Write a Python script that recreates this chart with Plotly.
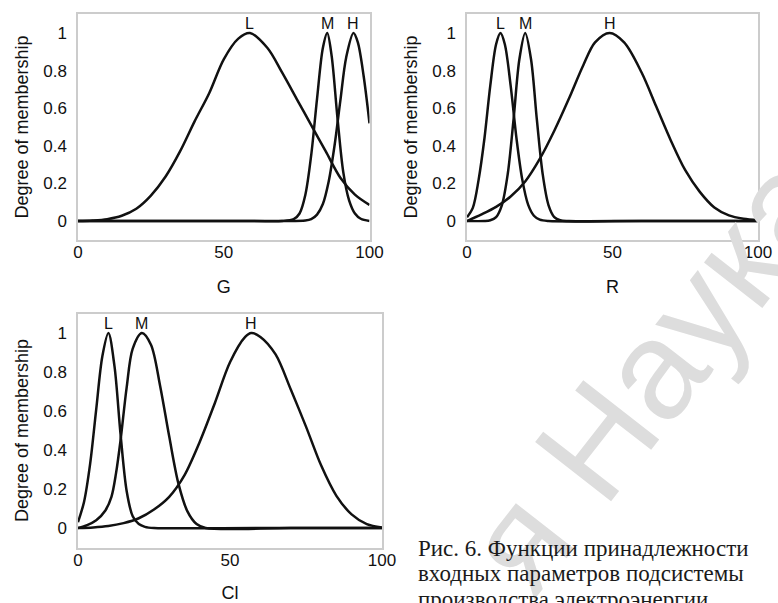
import numpy as np
import plotly.graph_objects as go

# ---- membership functions, input G ----
g_x_low = [0, 5, 10, 15, 20, 25, 30, 35, 40, 45, 50, 55, 59, 65, 70, 75, 80, 85, 90, 95, 100]
g_low = [0.0, 0.003, 0.01, 0.028, 0.065, 0.135, 0.235, 0.37, 0.53, 0.68, 0.86, 0.97, 1.0,
         0.92, 0.79, 0.65, 0.51, 0.37, 0.23, 0.14, 0.085]
g_x_med = [0, 60, 70, 74, 76, 78, 80, 82, 84, 85.5, 87, 89, 91, 93, 95, 97, 100]
g_med = [0, 0, 0, 0.01, 0.04, 0.14, 0.35, 0.65, 0.92, 1.0, 0.88, 0.55, 0.26, 0.11, 0.04, 0.012, 0.0]
g_x_high = [0, 70, 78, 80, 82, 84, 86, 88, 90, 92, 94.5, 96, 98, 100]
g_high = [0, 0, 0.003, 0.01, 0.034, 0.09, 0.21, 0.40, 0.64, 0.87, 1.0, 0.95, 0.77, 0.52]

# ---- membership functions, input R ----
r_x_low = [0, 2, 4, 6, 8, 10, 11.5, 13, 15, 17, 19, 21, 23, 25, 28, 60, 100]
r_low = [0.02, 0.07, 0.22, 0.44, 0.72, 0.94, 1.0, 0.94, 0.72, 0.44, 0.22, 0.087, 0.028, 0.007, 0, 0, 0]
r_x_med = [0, 6, 8, 10, 12, 14, 16, 18, 20, 22, 24, 26, 28, 30, 32, 35, 60, 100]
r_med = [0, 0, 0.004, 0.021, 0.085, 0.25, 0.54, 0.86, 1.0, 0.86, 0.54, 0.25, 0.085, 0.021, 0.004, 0, 0, 0]
r_x_high = [0, 5, 10, 15, 20, 25, 30, 35, 40, 44, 49, 54, 60, 65, 70, 75, 80, 85, 90, 95, 100]
r_high = [0.0, 0.035, 0.075, 0.13, 0.21, 0.33, 0.48, 0.65, 0.83, 0.95, 1.0, 0.95, 0.79, 0.61,
          0.43, 0.27, 0.155, 0.072, 0.03, 0.012, 0.004]

# ---- membership functions, input Cl ----
c_x_low = [0, 2, 4, 6, 8, 10, 12, 14, 16, 18, 20, 22, 25, 60, 100]
c_low = [0.03, 0.135, 0.33, 0.61, 0.88, 1.0, 0.83, 0.48, 0.19, 0.06, 0.02, 0.006, 0, 0, 0]
c_x_med = [0, 3, 6, 9, 11, 12.5, 14, 16, 18, 21, 24, 27, 30, 33, 36, 39, 42, 70, 100]
c_med = [0, 0.015, 0.04, 0.09, 0.16, 0.28, 0.45, 0.72, 0.92, 1.0, 0.94, 0.73, 0.47, 0.23,
         0.085, 0.02, 0, 0, 0]
c_x_high = [0, 5, 10, 15, 20, 25, 30, 35, 40, 45, 50, 55, 57, 60, 65, 70, 75, 80, 85, 90, 95, 100]
c_high = [0.0, 0.003, 0.01, 0.025, 0.05, 0.095, 0.16, 0.27, 0.44, 0.64, 0.85, 0.98, 1.0, 0.98,
          0.89, 0.71, 0.52, 0.32, 0.165, 0.07, 0.02, 0.003]

term_names = ["L", "M", "H"]
x_titles = ["G", "R", "Cl"]
x_ticks = [0, 50, 100]
y_ticks = [0, 0.2, 0.4, 0.6, 0.8, 1]
y_tick_text = ["0", "0.2", "0.4", "0.6", "0.8", "1"]

caption_lines = ["Рис. 6. Функции принадлежности",
                 "входных параметров подсистемы",
                 "производства электроэнергии"]

W, H = 778, 603
SANS = "Liberation Sans, Arial, sans-serif"
SERIF = "Liberation Serif, Times New Roman, serif"


def fx(px):
    return px / W


def fy(py):
    return 1 - py / H


panels = [
    dict(sfx="", curves=[(g_x_low, g_low), (g_x_med, g_med), (g_x_high, g_high)],
         xdom=[fx(78), fx(369.5)], ydom=[fy(239.8), fy(14.2)]),
    dict(sfx="2", curves=[(r_x_low, r_low), (r_x_med, r_med), (r_x_high, r_high)],
         xdom=[fx(467), fx(758)], ydom=[fy(239.8), fy(14.2)]),
    dict(sfx="3", curves=[(c_x_low, c_low), (c_x_med, c_med), (c_x_high, c_high)],
         xdom=[fx(78), fx(382)], ydom=[fy(547.5), fy(313.5)]),
]

fig = go.Figure()

# faint diagonal watermark behind the caption
fig.add_annotation(
    x=fx(650), y=fy(372), xref="paper", yref="paper",
    xanchor="center", yanchor="middle",
    text="я Наука", showarrow=False, textangle=-52,
    font=dict(family=SANS, size=140, color="#dddddd"),
)

layout_axes = {}
for i, p in enumerate(panels):
    s = p["sfx"]
    for name, (xs, ys) in zip(term_names, p["curves"]):
        fig.add_trace(go.Scatter(
            x=xs, y=ys, mode="lines",
            line=dict(color="#111111", width=2.5, shape="spline", smoothing=0.9),
            xaxis="x" + s, yaxis="y" + s, showlegend=False, hoverinfo="skip",
        ))
        peak_x = xs[int(np.argmax(ys))]
        fig.add_annotation(
            x=peak_x, y=max(ys), xref="x" + s, yref="y" + s, text=name,
            showarrow=False, xanchor="center", yanchor="bottom", yshift=-1,
            font=dict(family=SANS, size=16, color="#111111"),
        )
    layout_axes["xaxis" + s] = dict(
        domain=p["xdom"], anchor="y" + s, range=[0, 100],
        tickvals=x_ticks, ticks="", showgrid=False, zeroline=False,
        showline=True, mirror=True, linecolor="#cccccc", linewidth=1.5,
        tickfont=dict(family=SANS, size=17, color="#111111"),
        ticklabelstandoff=-4,
        title=dict(text=x_titles[i], standoff=19,
                   font=dict(family=SANS, size=18, color="#111111")),
        automargin=False,
    )
    layout_axes["yaxis" + s] = dict(
        domain=p["ydom"], anchor="x" + s, range=[-0.1, 1.1],
        tickvals=y_ticks, ticktext=y_tick_text, ticks="", showgrid=False,
        zeroline=False, showline=True, mirror=True, linecolor="#cccccc", linewidth=1.5,
        tickfont=dict(family=SANS, size=17, color="#111111"),
        ticklabelstandoff=6,
        title=dict(text="Degree of membership", standoff=10,
                   font=dict(family=SANS, size=18, color="#111111")),
        automargin=False,
    )

# figure caption, one annotation per line for tight leading
for k, line in enumerate(caption_lines):
    fig.add_annotation(
        x=fx(416), y=fy(548 + 25.5 * k), xref="paper", yref="paper",
        xanchor="left", yanchor="middle", align="left", text=line, showarrow=False,
        font=dict(family=SERIF, size=23, color="#1a1a1a"),
    )

fig.update_layout(
    template="none", width=W, height=H,
    margin=dict(l=0, r=0, t=0, b=0),
    paper_bgcolor="white", plot_bgcolor="white",
    **layout_axes,
)

fig.write_html("out.html")
